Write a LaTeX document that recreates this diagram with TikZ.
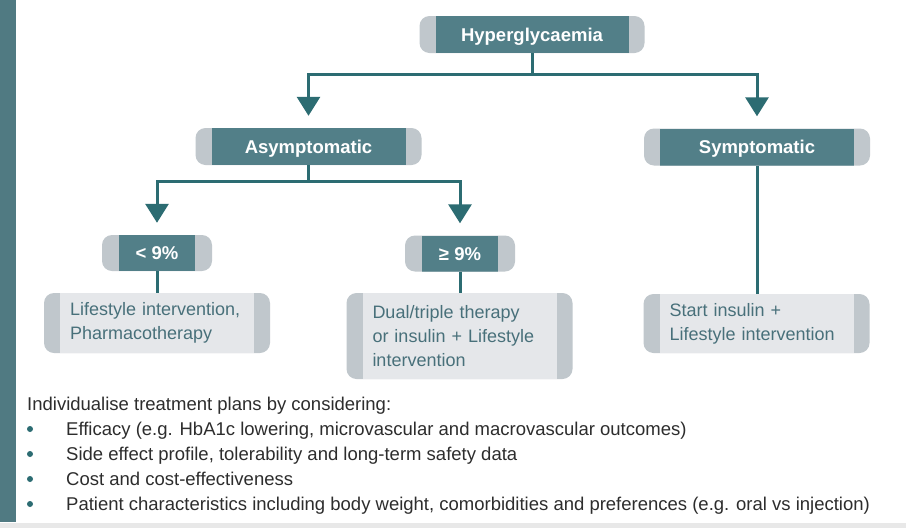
\documentclass[tikz,border=0pt]{standalone}
\usepackage{fontspec}
\setmainfont{Liberation Sans}
\usetikzlibrary{arrows.meta}
\definecolor{barteal}{RGB}{80,122,130}
\definecolor{boxteal}{RGB}{82,127,136}
\definecolor{flowteal}{RGB}{44,108,114}
\definecolor{capgrey}{RGB}{192,199,204}
\definecolor{paleface}{RGB}{229,231,234}
\definecolor{boxtext}{RGB}{72,112,122}
\definecolor{notetext}{RGB}{45,45,45}
\begin{document}
\begin{tikzpicture}[x=1pt,y=-1pt,
	capped/.style 2 args={fill=capgrey, rounded corners=10pt,
		path picture={\fill[#1, sharp corners] ([xshift=#2]path picture bounding box.south west) rectangle ([xshift=-#2]path picture bounding box.north east);}},
	hdr/.style={capped={boxteal}{16pt}, text=white, font=\fontsize{18.5}{22}\selectfont\bfseries,
		text height=13.5pt, text depth=0pt, minimum width=226pt, minimum height=37pt},
	pct/.style={hdr, capped={boxteal}{17pt}, minimum width=110pt, minimum height=36pt},
	plan/.style={capped={paleface}{16pt}, text=boxtext, font=\fontsize{18}{24}\selectfont,
		align=left, text width=174pt, minimum width=226pt},
	note/.style={anchor=base west, text=notetext, font=\fontsize{18.5}{25}\selectfont, inner sep=0pt},
	link/.style={draw=flowteal, line width=3pt},
	flow/.style={link, -{Triangle[width=23pt,length=19pt]}}]
	\useasboundingbox (0,0) rectangle (906,528);
	\fill[white] (0,0) rectangle (906,528);
	% frame
	\fill[barteal] (0,0) rectangle (16,522);
	\fill[black!9] (0,523) rectangle (906,528);
	% boxes
	\node[hdr, minimum width=225pt] (hyper) at (532,34.5) {Hyperglycaemia};
	\node[hdr] (asym) at (308.5,146.5) {Asymptomatic};
	\node[hdr] (symp) at (757,147) {Symptomatic};
	\node[pct] (low) at (157,253) {< 9\%};
	\node[pct] (high) at (460,253.5) {≥ 9\%};
	\node[plan, minimum height=60pt] (lifestyle) at (157,323) {Lifestyle intervention,\\Pharmacotherapy};
	\node[plan, minimum height=86pt] (dual) at (459.5,336) {Dual/triple therapy\\or insulin + Lifestyle\\intervention};
	\node[plan, minimum height=59pt] (insulin) at (756.5,323.5) {Start insulin +\\Lifestyle intervention};
	% connectors
	\draw[flow] (hyper.south) -- ++(0,21) -| ([yshift=12pt]asym.north);
	\draw[flow] (hyper.south) -- ++(0,21) -| ([yshift=12pt]symp.north);
	\draw[flow] (asym.south) -- ++(0,16) -| ([yshift=12pt]low.north);
	\draw[flow] (asym.south) -- ++(0,16) -| ([yshift=12pt]high.north);
	\draw[link] (low.south) -- (low.south |- lifestyle.north);
	\draw[link] (high.south) -- (high.south |- dual.north);
	\draw[link] (symp.south) -- (symp.south |- insulin.north);
	% notes
	\node[note] (intro) at (27,410) {Individualise treatment plans by considering:};
	\foreach \y/\txt [count=\i] in {435/{Efficacy (e.g. HbA1c lowering, microvascular and macrovascular outcomes)},
		460/{Side effect profile, tolerability and long-term safety data},
		485/{Cost and cost-effectiveness},
		510/{Patient characteristics including body weight, comorbidities and preferences (e.g. oral vs injection)}} {
		\fill[flowteal] (30,\y-6) circle (3pt);
		\node[note] (item\i) at (66,\y) {\txt};
	}
\end{tikzpicture}
\end{document}
